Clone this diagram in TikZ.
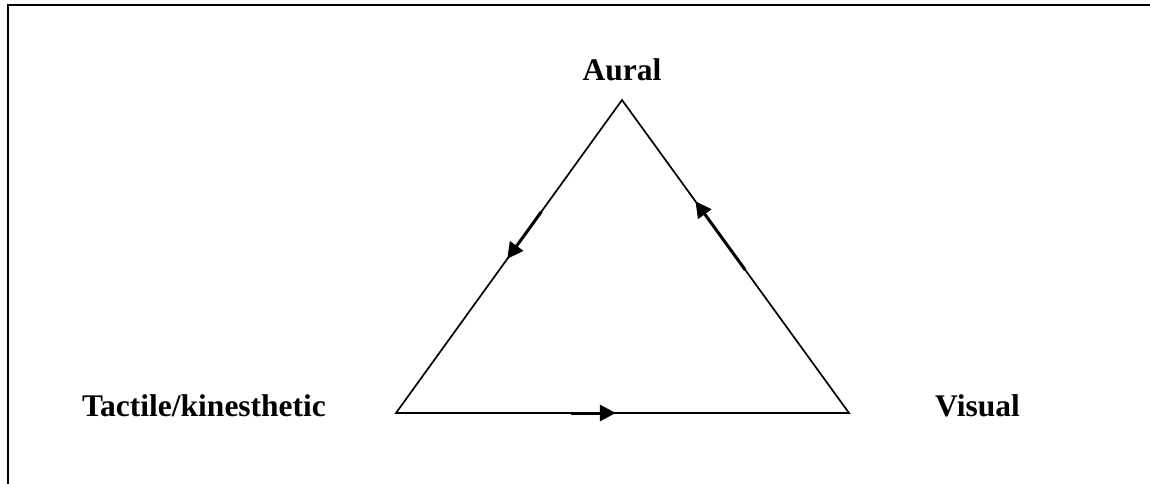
\documentclass[tikz,border=0pt]{standalone}
\usepackage{fontspec}
\setmainfont{Liberation Serif}
\usetikzlibrary{arrows.meta,calc}
\begin{document}
\begin{tikzpicture}[x=1pt,y=-1pt,
  edge/.style={line width=1.7pt, line join=miter},
  flow/.style={line width=3pt, -{Triangle[length=16pt,width=16pt]}, shorten >=-1pt},
  lbl/.style={font=\bfseries\fontsize{31.5}{36}\selectfont, anchor=base, inner sep=0pt}]
\useasboundingbox (0,0) rectangle (1150,484);
\clip (0,0) rectangle (1150,484);
\fill[white] (0,0) rectangle (1150,484);
\draw[line width=2pt] (7.5,5.5) rectangle (1170,500);
\coordinate (A) at (622,100);
\coordinate (T) at (396,413);
\coordinate (V) at (849,413);
\draw[edge] (A) -- (T) -- (V) -- cycle;
\node[lbl] (aural) at (622,80.7) {Aural};
\node[lbl] (tactile) at (204,416) {Tactile/kinesthetic};
\node[lbl] (visual) at (977.5,416) {Visual};
\coordinate (l1) at ($(A)!0.357!(T)$);
\coordinate (l2) at ($(A)!0.505!(T)$);
\coordinate (r1) at ($(V)!0.457!(A)$);
\coordinate (r2) at ($(V)!0.674!(A)$);
\coordinate (b1) at ($(T)!0.386!(V)$);
\coordinate (b2) at ($(T)!0.483!(V)$);
\draw[flow] (l1) -- (l2);
\draw[flow] (r1) -- (r2);
\draw[flow] (b1) -- (b2);
\end{tikzpicture}
\end{document}
